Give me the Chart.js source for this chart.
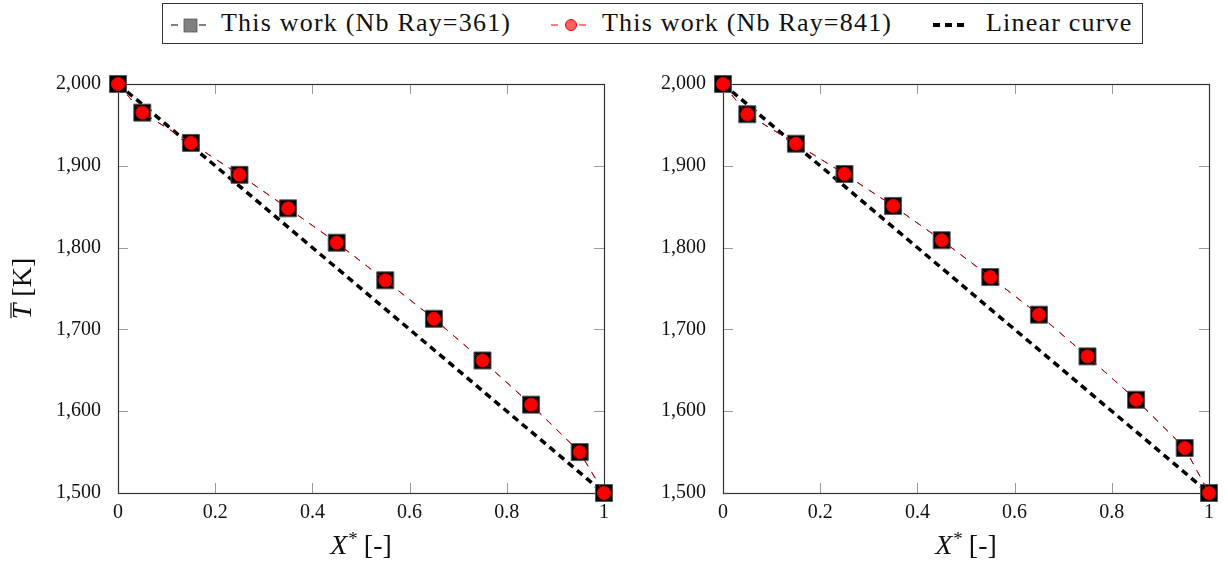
<!DOCTYPE html>
<html>
<head>
<meta charset="utf-8">
<script src="https://cdn.jsdelivr.net/npm/chart.js@4/dist/chart.umd.min.js"></script>
<style>
  body { margin:0; background:#fff; width:1228px; height:565px; overflow:hidden; position:relative; font-family:'Times New Roman', 'Liberation Serif', 'DejaVu Serif', serif; }
  #legend { position:absolute; left:162px; top:3px; width:979px; height:39px; border:1.5px solid #333; }
  .lbl { position:absolute; top:4px; font-size:26px; letter-spacing:1.2px; color:#111; white-space:nowrap; }
  .mk { position:absolute; top:0; }
  canvas { position:absolute; top:50px; }
</style>
</head>
<body>
<div id="legend">
  <svg class="mk" style="left:6px" width="44" height="40">
    <line x1="2" y1="21" x2="40" y2="21" stroke="#000" stroke-width="1" stroke-dasharray="7,7"/>
    <rect x="15" y="15" width="13" height="13" fill="#808080" stroke="#555" stroke-width="0.8"/>
  </svg>
  <span class="lbl" style="left:58px">This work (Nb Ray=361)</span>
  <svg class="mk" style="left:386px" width="44" height="40">
    <line x1="2" y1="21" x2="40" y2="21" stroke="#ff0000" stroke-width="1" stroke-dasharray="7,7"/>
    <circle cx="22" cy="21" r="5.5" fill="#ff6060" stroke="#ff0000" stroke-width="1"/>
  </svg>
  <span class="lbl" style="left:439px">This work (Nb Ray=841)</span>
  <svg class="mk" style="left:768px" width="40" height="40">
    <line x1="2" y1="21" x2="36" y2="21" stroke="#000" stroke-width="4" stroke-dasharray="7,5"/>
  </svg>
  <span class="lbl" style="left:823px">Linear curve</span>
</div>
<canvas id="left" width="620" height="515" style="left:0"></canvas>
<canvas id="right" width="618" height="515" style="left:610px"></canvas>
<script>
// X* positions of the sampled points
const xStar = [0, 0.05, 0.15, 0.25, 0.35, 0.45, 0.55, 0.65, 0.75, 0.85, 0.95, 1]
// left panel
const leftRay361 = [2000, 1965, 1928, 1889, 1848, 1806, 1760, 1713, 1662, 1608, 1550, 1500]
const leftRay841 = [2000, 1965, 1928, 1889, 1848, 1806, 1760, 1713, 1662, 1608, 1550, 1500]
// right panel
const rightRay361 = [2000, 1963, 1927, 1890, 1851, 1809, 1764, 1718, 1667, 1614, 1555, 1500]
const rightRay841 = [2000, 1963, 1927, 1890, 1851, 1809, 1764, 1718, 1667, 1614, 1555, 1500]
// linear reference
const linearX = [0, 1]
const linearY = [2000, 1500]
// ticks
const xTicks = [0, 0.2, 0.4, 0.6, 0.8, 1]
const yTicks = [1500, 1600, 1700, 1800, 1900, 2000]

const SERIF = '"Times New Roman", "Liberation Serif", "DejaVu Serif", serif'
const pts = (xs, ys) => xs.map((x, i) => ({x: x, y: ys[i]}))

// frame, inward ticks and axis titles (pgfplots look)
const decor = {
    id: 'decor',
    beforeDatasetsDraw(chart) {
        const {ctx, chartArea: a, scales} = chart
        ctx.save()
        ctx.strokeStyle = '#999'
        ctx.lineWidth = 1
        const L = 10
        xTicks.forEach(v => {
            const px = Math.round(scales.x.getPixelForValue(v)) + 0.5
            ctx.beginPath()
            ctx.moveTo(px, a.bottom); ctx.lineTo(px, a.bottom - L)
            ctx.moveTo(px, a.top); ctx.lineTo(px, a.top + L)
            ctx.stroke()
        })
        yTicks.forEach(v => {
            const py = Math.round(scales.y.getPixelForValue(v)) + 0.5
            ctx.beginPath()
            ctx.moveTo(a.left, py); ctx.lineTo(a.left + L, py)
            ctx.moveTo(a.right, py); ctx.lineTo(a.right - L, py)
            ctx.stroke()
        })
        ctx.strokeStyle = '#333'
        ctx.lineWidth = 1.2
        ctx.strokeRect(Math.round(a.left) + 0.5, Math.round(a.top) + 0.5, Math.round(a.right - a.left), Math.round(a.bottom - a.top))
        ctx.restore()
    },
    afterDraw(chart, args, opts) {
        const {ctx, chartArea: a} = chart
        ctx.save()
        ctx.fillStyle = '#111'
        ctx.textBaseline = 'middle'
        // x title: X* [-]
        const cx = (a.left + a.right) / 2, cy = 497
        ctx.font = 'italic 28px ' + SERIF
        const wX = ctx.measureText('X').width
        ctx.font = '19px ' + SERIF
        const wS = ctx.measureText('*').width
        ctx.font = '28px ' + SERIF
        const wR = ctx.measureText(' [-]').width
        let x0 = cx - (wX + wS + wR) / 2
        ctx.textAlign = 'left'
        ctx.font = 'italic 28px ' + SERIF
        ctx.fillText('X', x0, cy)
        ctx.font = '19px ' + SERIF
        ctx.fillText('*', x0 + wX + 1, cy - 7)
        ctx.font = '28px ' + SERIF
        ctx.fillText(' [-]', x0 + wX + wS, cy)
        if (opts.yTitle) {
            ctx.translate(24, (a.top + a.bottom) / 2)
            ctx.rotate(-Math.PI / 2)
            ctx.font = 'italic 28px ' + SERIF
            const wT = ctx.measureText('T').width
            ctx.font = '28px ' + SERIF
            const wK = ctx.measureText(' [K]').width
            let s = -(wT + wK) / 2
            ctx.font = 'italic 28px ' + SERIF
            ctx.fillText('T', s, 0)
            ctx.strokeStyle = '#111'
            ctx.lineWidth = 1.2
            ctx.beginPath()
            ctx.moveTo(s + 1, -13); ctx.lineTo(s + wT + 1, -13)
            ctx.stroke()
            ctx.font = '28px ' + SERIF
            ctx.fillText(' [K]', s + wT, 0)
        }
        ctx.restore()
    }
}

function makeChart(id, ray361, ray841, yWidth, padRight, yTitle) {
    return new Chart(document.getElementById(id), {
        type: 'line',
        data: {
            datasets: [{
                label: 'Linear curve',
                data: pts(linearX, linearY),
                borderColor: '#000',
                borderWidth: 3.5,
                borderDash: [7, 5],
                pointRadius: 0,
                order: 3
            }, {
                label: 'This work (Nb Ray=361)',
                data: pts(xStar, ray361),
                borderColor: '#000',
                borderWidth: 0.8,
                borderDash: [7, 7],
                pointStyle: 'rect',
                pointRadius: 12,
                pointBackgroundColor: '#000',
                pointBorderColor: '#555',
                pointBorderWidth: 1,
                order: 2
            }, {
                label: 'This work (Nb Ray=841)',
                data: pts(xStar, ray841),
                borderColor: '#d40000',
                borderWidth: 1,
                borderDash: [7, 7],
                pointStyle: 'circle',
                pointRadius: 6.5,
                pointBackgroundColor: '#ff0000',
                pointBorderColor: '#e00000',
                pointBorderWidth: 1,
                order: 1
            }]
        },
        options: {
            responsive: false,
            animation: false,
            clip: false,
            layout: { padding: { top: 34, right: padRight, left: 0, bottom: 0 } },
            plugins: { legend: { display: false }, tooltip: { enabled: false }, decor: { yTitle: yTitle } },
            scales: {
                x: {
                    type: 'linear', min: 0, max: 1,
                    afterBuildTicks: s => { s.ticks = xTicks.map(v => ({value: v})) },
                    afterFit: s => { s.height = 72 },
                    grid: { display: false },
                    border: { display: false },
                    ticks: {
                        padding: 0, color: '#111',
                        font: { family: SERIF, size: 20 },
                        callback: v => (v === 0 || v === 1) ? String(v) : v.toFixed(1)
                    }
                },
                y: {
                    min: 1500, max: 2000,
                    afterBuildTicks: s => { s.ticks = yTicks.map(v => ({value: v})) },
                    afterFit: s => { s.width = yWidth },
                    grid: { display: false },
                    border: { display: false },
                    ticks: {
                        padding: 9, color: '#111',
                        font: { family: SERIF, size: 20 },
                        callback: v => v.toLocaleString('en-US')
                    }
                }
            }
        },
        plugins: [decor]
    })
}

makeChart('left', leftRay361, leftRay841, 118, 16, true)
makeChart('right', rightRay361, rightRay841, 113, 19, false)
</script>
</body>
</html>
